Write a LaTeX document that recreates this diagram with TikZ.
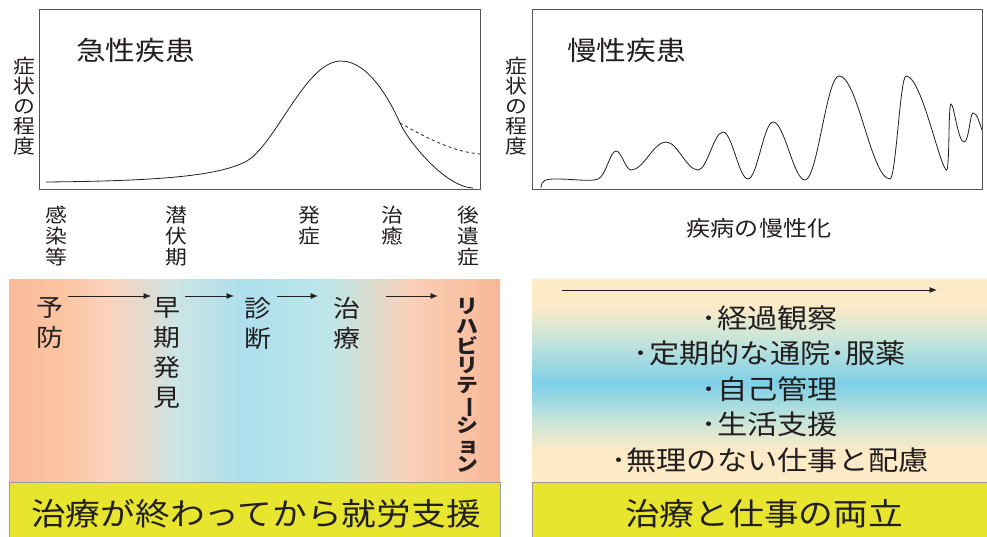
\documentclass[tikz,border=0pt]{standalone}
\usepackage{fontspec}
\usepackage{graphicx}
\setmainfont{Noto Sans CJK JP}[FakeStretch=1.12]
\usetikzlibrary{arrows.meta}
\definecolor{ink}{HTML}{231F20}
\definecolor{boxline}{HTML}{555555}
\definecolor{yel}{HTML}{E8E52F}
\definecolor{ga}{HTML}{F8BA98}
\definecolor{gb}{HTML}{FBC4A2}
\definecolor{gc}{HTML}{FCD2BA}
\definecolor{gd}{HTML}{E6D9CC}
\definecolor{ge}{HTML}{CCE4E4}
\definecolor{gf}{HTML}{ADDFED}
\definecolor{gg}{HTML}{BEE6E8}
\definecolor{gh}{HTML}{DCDCD0}
\definecolor{gi}{HTML}{FAD0B8}
\definecolor{gj}{HTML}{F7B796}
\definecolor{cream}{HTML}{FDEBC8}
\definecolor{mint}{HTML}{C2E4DA}
\definecolor{sky}{HTML}{7DCFE8}
\tikzset{
  txt/.style={inner sep=0pt, align=center, text=ink},
  tight/.style={execute at begin node={\lineskiplimit=-20pt\lineskip=0pt\relax}},
  chart/.style={draw=boxline, line width=0.8pt},
  curve/.style={draw=ink, line width=0.8pt},
  flow/.style={draw=ink, line width=0.8pt, -{Latex[length=7.5pt,width=6pt]}},
  yelbox/.style={fill=yel, draw=gray!80, line width=0.8pt}
}
\begin{document}
\begin{tikzpicture}[x=1pt,y=-1pt]
\path[use as bounding box] (0,0) rectangle (987,537);
\fill[white] (0,0) rectangle (987,537);

% ---------- left chart ----------
\draw[chart] (39,9) rectangle (480,189);
\node[txt, font=\fontsize{26.5}{26.5}\selectfont, anchor=west] (t1) at (76,50) {急性疾患};
\node[txt, tight, font=\fontsize{19.5}{20}\selectfont] (y1) at (24,106) {症\\状\\の\\程\\度};
\draw[curve] (46,182) .. controls (150,181) and (215,177) .. (245,162)
  .. controls (275,147) and (305,61) .. (341,61)
  .. controls (370,61) and (392,105) .. (400,123)
  .. controls (408,141) and (445,187) .. (473,188);
\draw[curve, dash pattern=on 3pt off 3pt] (400,123) .. controls (430,140) and (455,152) .. (480,154);

\node[txt, tight, font=\fontsize{19.5}{21}\selectfont, anchor=north] (l1) at (56,206) {感\\染\\等};
\node[txt, tight, font=\fontsize{19.5}{21}\selectfont, anchor=north] (l2) at (176,206) {潜\\伏\\期};
\node[txt, tight, font=\fontsize{19.5}{21}\selectfont, anchor=north] (l3) at (309,206) {発\\症};
\node[txt, tight, font=\fontsize{19.5}{21}\selectfont, anchor=north] (l4) at (392,206) {治\\癒};
\node[txt, tight, font=\fontsize{19.5}{21}\selectfont, anchor=north] (l5) at (468,206) {後\\遺\\症};

% ---------- right chart ----------
\draw[chart] (532,9) rectangle (982,189);
\node[txt, font=\fontsize{26.5}{26.5}\selectfont, anchor=west] (t2) at (567,50) {慢性疾患};
\node[txt, tight, font=\fontsize{19.5}{20}\selectfont] (y2) at (516,106) {症\\状\\の\\程\\度};
\draw[curve] (541,188) .. controls (541,180) and (546,179) .. (556,179)
  .. controls (575,179) and (590,182) .. (598,179)
  .. controls (606,176) and (610,151) .. (616,151)
  .. controls (621.5,151) and (625.5,170) .. (631,170)
  .. controls (643.7,170) and (653.3,142) .. (666,142)
  .. controls (677.6,142) and (686.4,170) .. (698,170)
  .. controls (707.1,170) and (713.9,132) .. (723,132)
  .. controls (732.1,132) and (738.9,179) .. (748,179)
  .. controls (757.1,179) and (763.9,122) .. (773,122)
  .. controls (784.6,122) and (793.4,180) .. (805,180)
  .. controls (817.4,180) and (826.6,76) .. (839,76)
  .. controls (857.6,76) and (871.4,179) .. (890,179)
  .. controls (895.8,179) and (900.2,76) .. (906,76)
  .. controls (921,76) and (938,160) .. (946,170)
  .. controls (950,175) and (948,104) .. (951,104)
  .. controls (954,104) and (958,142) .. (964,142)
  .. controls (969,142) and (970,113) .. (973,113)
  .. controls (977,113) and (979,122) .. (982,130);
\node[txt, font=\fontsize{21.5}{21.5}\selectfont] (chron) at (759,228) {疾病の慢性化};

% ---------- left gradient panel ----------
\shade[left color=ga, right color=gb] (9,279) rectangle (60.5,482);
\shade[left color=gb, right color=gc] (60,279) rectangle (105.5,482);
\shade[left color=gc, right color=gd] (105,279) rectangle (140.5,482);
\shade[left color=gd, right color=ge] (140,279) rectangle (175.5,482);
\shade[left color=ge, right color=gf] (175,279) rectangle (245.5,482);
\shade[left color=gf, right color=gg] (245,279) rectangle (330.5,482);
\shade[left color=gg, right color=gh] (330,279) rectangle (370.5,482);
\shade[left color=gh, right color=gi] (370,279) rectangle (410.5,482);
\shade[left color=gi, right color=gj] (410,279) rectangle (500,482);

\node[txt, tight, font=\fontsize{24}{30}\selectfont, anchor=north] (p1) at (50,297) {予\\防};
\node[txt, tight, font=\fontsize{24}{30}\selectfont, anchor=north] (p2) at (167,297) {早\\期\\発\\見};
\node[txt, tight, font=\fontsize{24}{30}\selectfont, anchor=north] (p3) at (258,297) {診\\断};
\node[txt, tight, font=\fontsize{24}{30}\selectfont, anchor=north] (p4) at (347,297) {治\\療};
\node[txt, tight, font=\fontsize{19.5}{19.8}\selectfont\bfseries, anchor=north] (p5) at (467,298)
  {リ\\ハ\\ビ\\リ\\テ\\\rotatebox[origin=c]{-90}{ー}\\シ\\\hspace*{3pt}ョ\\ン};
\coordinate (a1s) at (68,296);  \coordinate (a1e) at (151,296);
\coordinate (a2s) at (185,296); \coordinate (a2e) at (234,296);
\coordinate (a3s) at (277,296); \coordinate (a3e) at (318,296);
\coordinate (a4s) at (386,296); \coordinate (a4e) at (438,296);
\draw[flow] (a1s) -- (a1e);
\draw[flow] (a2s) -- (a2e);
\draw[flow] (a3s) -- (a3e);
\draw[flow] (a4s) -- (a4e);

% ---------- right gradient panel ----------
\fill[cream] (532,279) rectangle (987,306);
\shade[top color=cream, bottom color=mint] (532,305.5) rectangle (987,342.5);
\shade[top color=mint, bottom color=sky] (532,342) rectangle (987,383.5);
\shade[top color=sky, bottom color=mint] (532,383) rectangle (987,418.5);
\shade[top color=mint, bottom color=cream] (532,418) rectangle (987,450.5);
\fill[cream] (532,450) rectangle (987,482);
\coordinate (rs) at (562,290); \coordinate (re) at (937,290);
\draw[flow] (rs) -- (re);
\node[txt, font=\fontsize{27}{35.5}\selectfont] (list) at (770,389)
  {･経過観察\\･定期的な通院･服薬\\･自己管理\\･生活支援\\･無理のない仕事と配慮};

% ---------- yellow boxes ----------
\draw[yelbox] (9,482) rectangle (500,537.5);
\node[txt, font=\fontsize{31}{31}\selectfont] (y1t) at (256,514) {治療が終わってから就労支援};
\draw[yelbox] (532,482) rectangle (988,537.5);
\node[txt, font=\fontsize{31}{31}\selectfont] (y2t) at (764,514) {治療と仕事の両立};
\end{tikzpicture}
\end{document}
